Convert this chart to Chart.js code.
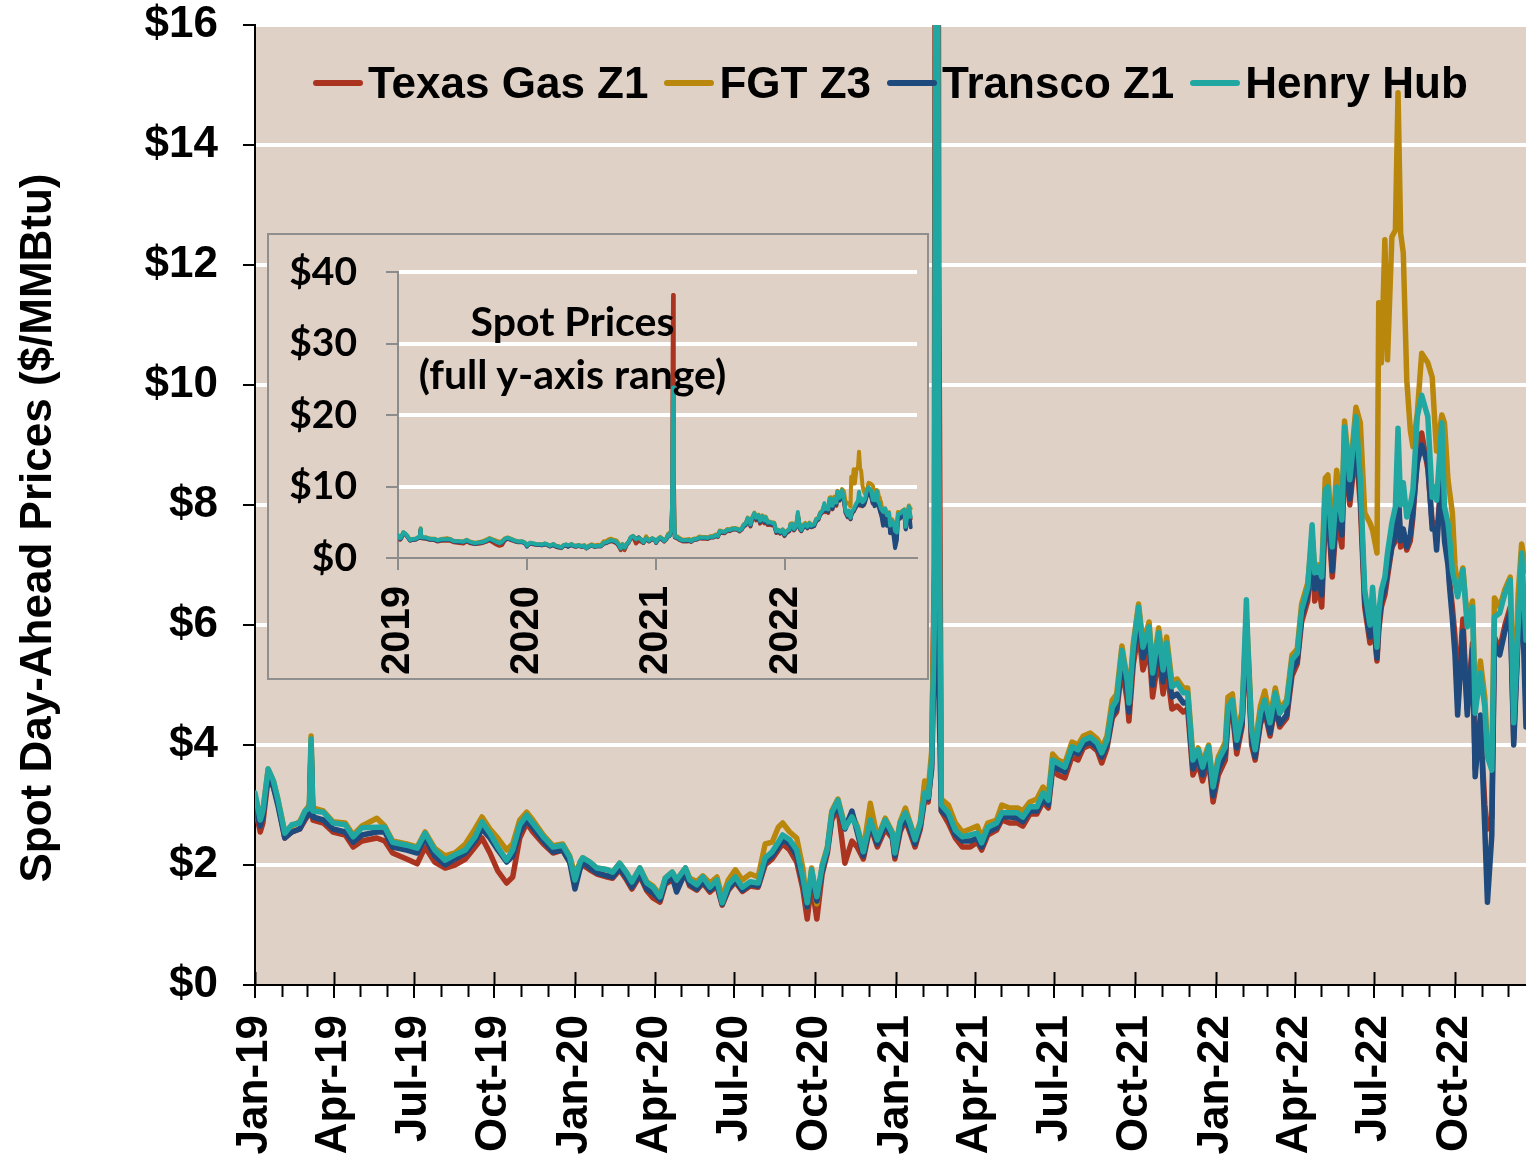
<!DOCTYPE html>
<html>
<head>
<meta charset="utf-8">
<title>Spot Day-Ahead Prices</title>
<script src="https://cdn.jsdelivr.net/npm/chart.js@4.4.0/dist/chart.umd.min.js"></script>
<style>
  html, body { margin: 0; padding: 0; background: #fff; }
  #wrap { position: relative; width: 1526px; height: 1155px; overflow: hidden; font-family: "Liberation Sans", Arial, sans-serif; }
  #mainChart { position: absolute; left: 0; top: 0; }
  #yTitle {
    position: absolute; left: -344px; top: 503px; width: 760px; height: 50px;
    line-height: 50px; text-align: center; font-weight: bold; font-size: 44px;
    white-space: nowrap; transform: rotate(-90deg); color: #000;
  }
  #legend {
    position: absolute; left: 313px; top: 58px; height: 50px;
    display: flex; align-items: center; white-space: nowrap;
    font-weight: bold; font-size: 44px; color: #000;
  }
  #legend .item { display: flex; align-items: center; margin-right: 16px; }
  #legend .mark { display: inline-block; width: 50px; height: 6px; border-radius: 3px; margin-right: 5px; }
  #inset { position: absolute; left: 267px; top: 233px; width: 658px; height: 443px; border: 2px solid #8f8f8f; background: #e0d1c7; }
  #insetChart { position: absolute; left: 0; top: 0; }
  #insetNote {
    position: absolute; left: 400px; top: 294px; width: 345px; text-align: center;
    font-family: Lato, "Open Sans", sans-serif; font-weight: bold; font-size: 41px; line-height: 53px; color: #000;
  }
</style>
</head>
<body>
<div id="wrap">
  <canvas id="mainChart" width="1526" height="1155"></canvas>
  <div id="yTitle">Spot Day-Ahead Prices ($/MMBtu)</div>
  <div id="legend"></div>
  <div id="inset"><canvas id="insetChart" width="658" height="443"></canvas></div>
  <div id="insetNote">Spot Prices<br>(full y-axis range)</div>
</div>
<script>
// days since 1 Jan 2019
const dayIndex = [
  0,6,9,15,21,26,34,42,51,57, 62,64,66,78,89,103,112,122,139,148, 157,173,185,194,205,217,228,240,251,259, 268,277,287,294,302,310,317,329,340,351, 359,
  365,371,374,382,390,402,408,416,424,430, 439,447,454,462,468,476,481,491,496,504, 511,519,527,533,540,548,556,565,574,582, 590,597,602,610,618,625,630,635,641,647, 653,658,665,673,681,687,694,702,710,719, 727,
  730,736,742,747,753,759,764,768,772,775, 777,778,780,783,791,799,807,816,824,829, 836,846,852,861,870,876,884,892,899,905, 910,916,924,932,939,945,953,961,966,972, 978,983,989,995,997,1002,1008,1013,1020,1024, 1031,1036,1040,1046,1052,1059,1064,1070,1076,1081, 1088,1093,
  1099,1107,1110,1115,1120,1126,1131,1133,1137,1141, 1147,1152,1158,1164,1169,1177,1183,1189,1194,1201, 1206,1209,1213,1217,1221,1224,1229,1234,1240,1243, 1249,1256,1261,1266,1272,1275,1280,1282,1285,1289, 1292,1297,1301,1304,1307,1310,1314,1318,1321,1326, 1331,1338,1343,1346,1348,1354,1357,1361,1363,1366, 1369,1372,1378,1383,1389,1392,1398,1403,1406,1411, 1414,1420,1426,1432,1436,1441,1445,1450
];

const texasGasZ1 = [
  2.95,2.55,2.7,3.45,3.3,3.05,2.45,2.55,2.6,2.75, 2.85,3.9,2.75,2.7,2.55,2.5,2.3,2.4,2.45,2.4, 2.2,2.1,2.02,2.3,2.05,1.95,2.0,2.1,2.3,2.45, 2.2,1.9,1.7,1.8,2.45,2.7,2.55,2.35,2.2,2.25, 2.05,
  1.75,1.95,2.0,1.92,1.85,1.8,1.78,1.92,1.75,1.6, 1.82,1.57,1.45,1.38,1.68,1.75,1.65,1.85,1.65,1.58, 1.7,1.55,1.65,1.33,1.58,1.72,1.56,1.65,1.63,2.0, 2.1,2.25,2.35,2.25,2.05,1.6,1.1,1.7,1.1,1.85, 2.2,2.75,2.95,2.03,2.4,2.3,2.1,2.65,2.3,2.6, 2.45,
  2.1,2.55,2.75,2.55,2.3,2.6,3.1,3.05,3.7,7.0, 30.0,36.8,12.0,2.9,2.7,2.45,2.3,2.3,2.38,2.25, 2.5,2.58,2.75,2.7,2.7,2.65,2.85,2.85,3.05,2.95, 3.6,3.5,3.45,3.8,3.75,3.95,4.0,3.9,3.7,3.95, 4.45,4.55,5.3,4.75,4.4,5.35,5.9,5.25,5.6,4.8, 5.5,4.85,5.3,4.6,4.65,4.55,4.6,3.5,3.7,3.4, 3.75,3.05,
  3.5,3.75,4.4,4.55,3.85,4.3,5.9,5.3,4.0,3.75, 4.35,4.55,4.15,4.65,4.3,4.45,5.15,5.35,6.05,6.4, 7.3,6.4,6.7,6.3,7.8,7.9,6.8,7.8,7.3,8.9, 8.0,9.0,8.0,6.3,5.7,6.2,5.4,5.9,6.3,6.5, 6.8,7.3,7.4,8.2,7.3,7.5,7.25,7.4,7.8,8.8, 9.2,8.6,7.7,7.7,7.4,8.6,7.5,7.1,6.7,6.3, 5.8,4.8,6.1,4.6,5.7,3.6,4.4,3.0,2.6,2.8, 5.8,5.6,6.0,6.3,4.1,5.9,6.9,5.5
];

const fgtZ3 = [
  3.15,2.8,2.9,3.6,3.4,3.1,2.55,2.65,2.72,2.9, 3.0,4.15,2.95,2.9,2.72,2.7,2.5,2.65,2.78,2.65, 2.4,2.35,2.3,2.55,2.28,2.15,2.2,2.35,2.6,2.8, 2.6,2.45,2.25,2.35,2.75,2.88,2.75,2.5,2.32,2.35, 2.15,
  1.85,2.05,2.12,2.05,1.95,1.92,1.88,2.03,1.87,1.72, 1.95,1.72,1.65,1.5,1.78,1.88,1.75,1.95,1.78,1.72, 1.82,1.7,1.8,1.45,1.75,1.92,1.75,1.85,1.8,2.35, 2.38,2.63,2.7,2.55,2.45,1.95,1.3,1.95,1.35,2.0, 2.3,2.9,3.1,2.65,2.85,2.65,2.25,3.03,2.45,2.78, 2.55,
  2.25,2.72,2.95,2.72,2.45,2.72,3.4,3.25,3.9,6.5, 8.0,8.5,7.0,3.1,3.0,2.7,2.55,2.6,2.65,2.45, 2.7,2.75,3.0,2.95,2.95,2.9,3.05,3.1,3.3,3.15, 3.85,3.75,3.7,4.05,4.0,4.15,4.2,4.1,3.95,4.15, 4.75,4.85,5.65,5.1,4.75,5.7,6.35,5.7,6.05,5.25, 5.95,5.35,5.8,5.05,5.1,4.95,4.95,3.8,3.95,3.7, 4.0,3.35,
  3.8,4.05,4.8,4.85,4.2,4.55,6.1,5.6,4.3,4.0, 4.65,4.9,4.45,4.95,4.6,4.75,5.5,5.6,6.35,6.7, 7.5,6.9,7.0,6.9,8.45,8.5,7.4,8.58,7.9,9.4, 8.5,9.63,9.37,7.87,7.7,7.58,7.2,11.37,10.37,12.42, 10.42,12.47,12.58,14.87,12.53,12.2,10.08,9.25,8.97,9.53, 10.53,10.37,10.13,9.37,8.9,9.5,9.37,8.42,8.2,7.87, 7.0,6.6,6.95,6.1,6.4,4.7,5.4,4.8,3.9,3.7, 6.45,6.3,6.6,6.8,4.45,6.5,7.35,6.9
];

const transcoZ1 = [
  3.0,2.65,2.8,3.5,3.3,3.0,2.45,2.55,2.6,2.78, 2.85,3.95,2.8,2.75,2.6,2.55,2.38,2.5,2.55,2.55, 2.3,2.25,2.2,2.45,2.15,2.0,2.1,2.2,2.4,2.6, 2.45,2.25,2.05,2.15,2.55,2.75,2.62,2.4,2.22,2.25, 2.05,
  1.6,1.95,2.05,1.95,1.87,1.82,1.8,1.95,1.78,1.63, 1.85,1.6,1.53,1.42,1.7,1.8,1.55,1.88,1.68,1.6, 1.72,1.58,1.68,1.35,1.6,1.75,1.58,1.68,1.65,2.05, 2.15,2.3,2.42,2.35,2.15,1.7,1.3,1.8,1.4,1.9, 2.25,2.8,3.0,2.6,2.9,2.55,2.15,2.7,2.35,2.68, 2.48,
  2.15,2.6,2.8,2.6,2.35,2.65,3.15,3.1,3.6,5.5, 6.1,6.2,5.0,2.9,2.8,2.5,2.4,2.4,2.45,2.3, 2.55,2.62,2.8,2.8,2.78,2.72,2.9,2.9,3.1,3.0, 3.65,3.6,3.55,3.9,3.85,4.0,4.05,3.95,3.8,4.0, 4.5,4.6,5.45,4.9,4.55,5.5,6.1,5.45,5.8,5.0, 5.7,5.05,5.5,4.8,4.85,4.7,4.72,3.6,3.8,3.5, 3.85,3.15,
  3.6,3.85,4.5,4.6,3.95,4.35,5.8,5.4,4.1,3.8, 4.4,4.6,4.2,4.7,4.35,4.5,5.25,5.4,6.15,6.5, 7.3,6.6,6.8,6.5,8.0,8.1,6.9,8.0,7.5,9.0, 8.1,9.1,8.2,6.4,5.8,6.3,5.45,6.0,6.4,6.6, 6.9,7.3,7.5,8.3,7.4,7.6,7.3,7.5,7.9,8.7, 9.0,8.7,7.6,7.6,7.25,8.6,7.4,7.0,6.6,6.1, 5.5,4.5,5.9,4.5,5.6,3.47,4.5,2.6,1.38,2.5, 5.7,5.5,5.9,6.2,4.0,5.8,6.8,4.3
];

const henryHub = [
  3.2,2.75,2.9,3.6,3.4,3.1,2.53,2.67,2.7,2.9, 2.95,4.1,2.9,2.88,2.7,2.67,2.47,2.62,2.63,2.63, 2.38,2.33,2.28,2.53,2.25,2.08,2.17,2.25,2.47,2.72, 2.53,2.3,2.08,2.25,2.67,2.83,2.7,2.47,2.3,2.33, 2.13,
  1.75,2.05,2.12,2.05,1.95,1.92,1.88,2.03,1.87,1.72, 1.95,1.7,1.63,1.47,1.78,1.88,1.75,1.95,1.75,1.67, 1.8,1.63,1.75,1.37,1.67,1.8,1.63,1.72,1.7,2.12, 2.22,2.38,2.5,2.42,2.25,1.8,1.37,1.92,1.47,1.97, 2.28,2.87,3.08,2.62,2.8,2.62,2.22,2.75,2.42,2.75, 2.53,
  2.2,2.7,2.87,2.7,2.42,2.7,3.2,3.13,3.75,6.0, 20.0,23.86,9.0,3.0,2.87,2.58,2.47,2.5,2.53,2.37, 2.63,2.7,2.87,2.87,2.87,2.8,2.97,2.97,3.2,3.08, 3.75,3.7,3.63,3.97,3.92,4.08,4.13,4.03,3.87,4.08, 4.63,4.75,5.58,5.08,4.7,5.63,6.3,5.63,5.97,5.2, 5.87,5.25,5.7,4.97,5.03,4.87,4.87,3.75,3.92,3.63, 3.97,3.3,
  3.75,3.97,4.63,4.75,4.08,4.47,6.42,5.53,4.25,3.92, 4.53,4.75,4.37,4.87,4.53,4.7,5.42,5.53,6.25,6.63, 7.67,6.87,6.97,6.8,8.25,8.3,7.3,8.3,7.75,9.3, 8.42,9.47,8.42,6.58,6.0,6.63,5.63,6.2,6.58,6.8, 7.2,7.7,7.97,9.28,8.0,8.37,7.8,8.0,8.25,9.47, 9.83,9.47,8.13,8.3,8.08,9.37,7.97,7.7,7.42,6.9, 6.7,6.47,6.92,5.97,6.3,4.53,5.2,4.63,3.8,3.58, 6.13,6.2,6.53,6.75,4.37,5.97,7.2,5.75
];

const seriesNames = ['Texas Gas Z1', 'FGT Z3', 'Transco Z1', 'Henry Hub'];
const seriesValues = [texasGasZ1, fgtZ3, transcoZ1, henryHub];
const seriesColors = ['#ab3420', '#b8870b', '#1f4a7e', '#21a7a2'];

const quarterLabels = ['Jan-19','Apr-19','Jul-19','Oct-19','Jan-20','Apr-20','Jul-20','Oct-20',
  'Jan-21','Apr-21','Jul-21','Oct-21','Jan-22','Apr-22','Jul-22','Oct-22'];
const yearLabels = ['2019', '2020', '2021', '2022'];

// day offset of the first of a month, counted from 1 Jan 2019
const dayOf = (y, m) => Math.round((Date.UTC(y, m, 1) - Date.UTC(2019, 0, 1)) / 86400000);
const monthDays = [];
for (let y = 2019; y <= 2022; y++) for (let m = 0; m < 12; m++) monthDays.push(dayOf(y, m));
const quarterDays = monthDays.filter((d, i) => i % 3 === 0);
const yearDays = monthDays.filter((d, i) => i % 12 === 0);

const FONT = '"Liberation Sans", Arial, sans-serif';
const PLOT_BG = '#e0d1c7';

// legend (html, sits inside the plot area)
const legendEl = document.getElementById('legend');
seriesNames.forEach((name, i) => {
  const item = document.createElement('span');
  item.className = 'item';
  const mark = document.createElement('span');
  mark.className = 'mark';
  mark.style.background = seriesColors[i];
  item.appendChild(mark);
  item.appendChild(document.createTextNode(name));
  legendEl.appendChild(item);
});

const plotBackground = {
  id: 'plotBackground',
  beforeDraw(chart) {
    const { ctx, chartArea: a } = chart;
    ctx.save();
    ctx.fillStyle = PLOT_BG;
    ctx.fillRect(a.left, a.top, a.right - a.left, a.bottom - a.top);
    ctx.restore();
  }
};

// monthly minor ticks below the axis, and the upper half of the quarter ticks
const monthTicks = {
  id: 'monthTicks',
  afterDraw(chart) {
    const { ctx } = chart;
    const xs = chart.scales.x;
    const y0 = chart.chartArea.bottom;
    ctx.save();
    ctx.strokeStyle = '#000';
    ctx.lineWidth = 2;
    monthDays.forEach((d, i) => {
      if (d > xs.max) return;
      const px = Math.round(xs.getPixelForValue(d)) + 0.5;
      ctx.beginPath();
      if (i % 3 === 0) { ctx.moveTo(px, y0 - 13); ctx.lineTo(px, y0); }
      else { ctx.moveTo(px, y0); ctx.lineTo(px, y0 + 12); }
      ctx.stroke();
    });
    ctx.restore();
  }
};

// Henry Hub drawn on top, Texas Gas at the back
const makeDatasets = (width) => seriesNames.map((name, i) => ({
  label: name,
  data: dayIndex.map((d, k) => ({ x: d, y: seriesValues[i][k] })),
  borderColor: seriesColors[i],
  backgroundColor: seriesColors[i],
  borderWidth: width,
  borderCapStyle: 'round',
  borderJoinStyle: 'round',
  pointRadius: 0,
  tension: 0,
  order: seriesNames.length - 1 - i
}));

// Main chart
new Chart(document.getElementById('mainChart').getContext('2d'), {
  type: 'line',
  data: { datasets: makeDatasets(5.5) },
  plugins: [plotBackground, monthTicks],
  options: {
    responsive: false,
    animation: false,
    events: [],
    layout: { padding: 0 },
    scales: {
      x: {
        type: 'linear',
        min: 0,
        max: 1450,
        afterBuildTicks: s => { s.ticks = quarterDays.map(v => ({ value: v })); },
        afterFit: s => { s.height = 170; },
        ticks: {
          autoSkip: false, minRotation: 90, maxRotation: 90, padding: 17, color: '#000',
          font: { family: FONT, size: 44, weight: 'bold' },
          callback: (v, i) => quarterLabels[i]
        },
        grid: { drawOnChartArea: false, color: '#000', lineWidth: 2, tickLength: 13 },
        border: { color: '#000', width: 2 }
      },
      y: {
        min: 0,
        max: 16,
        afterFit: s => { s.width = 255; s.paddingTop = 25; s.paddingBottom = 0; },
        ticks: {
          stepSize: 2, padding: 25, color: '#000',
          font: { family: FONT, size: 44, weight: 'bold' },
          callback: v => '$' + v
        },
        grid: {
          color: c => (c.tick && c.tick.value === 0) ? 'rgba(0,0,0,0)' : '#ffffff',
          lineWidth: 4, tickColor: '#000', tickWidth: 2, tickLength: 12
        },
        border: { color: '#000', width: 2 }
      }
    },
    plugins: {
      tooltip: { enabled: false },
      legend: { display: false }
    }
  }
});

// Inset with the full y-axis range
const insetAxisGrey = '#8c8c8c';
new Chart(document.getElementById('insetChart').getContext('2d'), {
  type: 'line',
  data: { datasets: makeDatasets(4) },
  options: {
    responsive: false,
    animation: false,
    events: [],
    layout: { padding: { top: 0, right: 10, bottom: 0, left: 0 } },
    scales: {
      x: {
        type: 'linear',
        min: 0,
        max: 1468,
        afterBuildTicks: s => { s.ticks = yearDays.map(v => ({ value: v })); },
        afterFit: s => { s.height = 120; },
        ticks: {
          autoSkip: false, minRotation: 90, maxRotation: 90, padding: 16, color: '#000',
          font: { family: FONT, size: 40, weight: 'bold' },
          callback: (v, i) => yearLabels[i]
        },
        grid: { drawOnChartArea: false, color: insetAxisGrey, lineWidth: 2, tickLength: 12 },
        border: { color: insetAxisGrey, width: 2 }
      },
      y: {
        min: 0,
        max: 40,
        afterFit: s => { s.width = 129; s.paddingTop = 37; s.paddingBottom = 0; },
        ticks: {
          stepSize: 10, padding: 29, color: '#000',
          font: { family: 'Lato, "Open Sans", sans-serif', size: 39, weight: 'bold' },
          callback: v => '$' + v
        },
        grid: {
          color: c => (c.tick && c.tick.value === 0) ? 'rgba(0,0,0,0)' : '#ffffff',
          lineWidth: 4, tickColor: insetAxisGrey, tickWidth: 2, tickLength: 12
        },
        border: { color: insetAxisGrey, width: 2 }
      }
    },
    plugins: {
      tooltip: { enabled: false },
      legend: { display: false }
    }
  }
});
</script>
</body>
</html>
